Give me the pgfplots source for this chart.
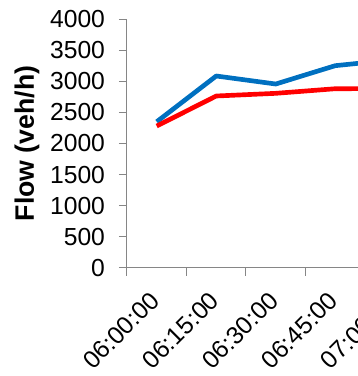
\documentclass[border=0pt]{standalone}
\usepackage{pgfplots}
\pgfplotsset{compat=1.18}
\usepackage{fontspec}
\setmainfont{Liberation Sans}
\definecolor{flowblue}{HTML}{0070C0}
\definecolor{flowred}{HTML}{FF0000}
\definecolor{axisgray}{HTML}{868686}

\begin{document}
\begin{tikzpicture}
% visible window of the chart
\useasboundingbox (-95.25pt,-81.2pt) rectangle (173.25pt,200.8pt);
\clip (-95.25pt,-81.2pt) rectangle (173.25pt,200.8pt);
\begin{axis}[
  at={(0pt,0pt)}, anchor=south west,
  scale only axis, width=223.1pt, height=186.4pt,
  xmin=-0.5, xmax=4.5,
  ymin=0, ymax=4000,
  ytick={0,500,...,4000},
  xtick={0,1,2,3,4},
  xticklabels={06:00:00,06:15:00,06:30:00,06:45:00,07:00:00},
  extra x ticks={-0.5,0.5,1.5,2.5,3.5,4.5},
  extra x tick labels={},
  extra x tick style={xtick style={draw=axisgray, line width=0.75pt}},
  xtick style={draw=none},
  ytick style={draw=axisgray, line width=0.75pt},
  tick align=outside,
  major tick length=6pt,
  axis lines*=left,
  axis line style={-, draw=axisgray, line width=0.75pt},
  /pgf/number format/assume math mode=true,
  /pgf/number format/set thousands separator={},
  tick label style={font=\fontsize{18.5}{22}\selectfont},
  yticklabel style={xshift=-7pt},
  xticklabel style={xshift=-6pt, yshift=-6pt, rotate=45, anchor=north east},
  ylabel={Flow (veh/h)},
  every axis y label/.style={at={(axis description cs:-0.3362,0.5)}, rotate=90, anchor=center, font=\bfseries\fontsize{20}{24}\selectfont},
]
\addplot[flowblue, line width=3.5pt, line join=round] coordinates {
  (0,2350) (1,3086) (2,2957) (3,3252) (4,3350)
};
\addplot[flowred, line width=3.5pt, line join=round] coordinates {
  (0,2281) (1,2764) (2,2807) (3,2881) (4,2885)
};
\end{axis}
\end{tikzpicture}
\end{document}
